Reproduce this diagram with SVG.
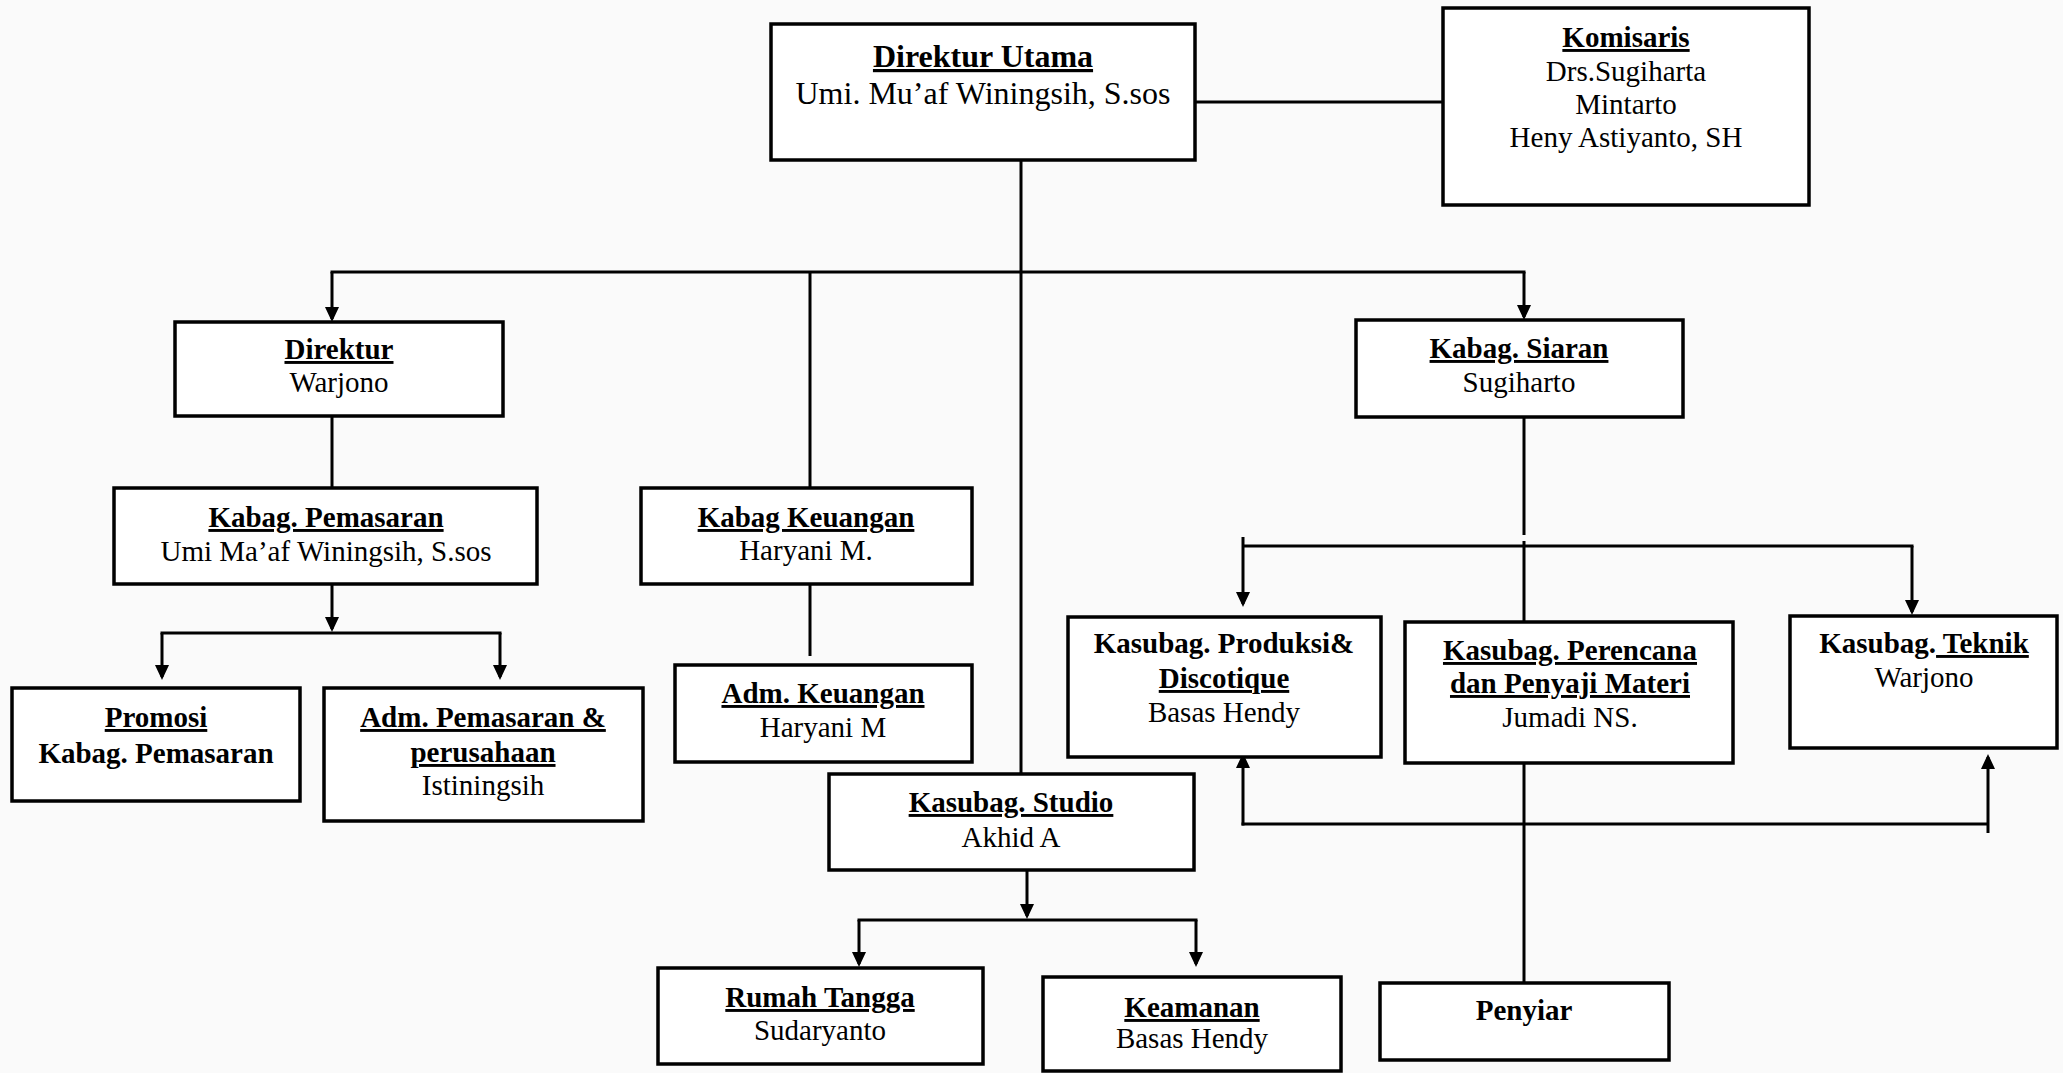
<svg xmlns="http://www.w3.org/2000/svg" width="2063" height="1073" viewBox="0 0 2063 1073">
<style>
.box{fill:#fff;stroke:#000;stroke-width:3.5}
.t{font-family:"Liberation Serif","Times New Roman",serif;font-size:29px;text-anchor:middle;fill:#000}
.big{font-size:32px}
.b{font-weight:bold}
.u{text-decoration:underline;text-decoration-thickness:2.5px}
.c{stroke:#000;stroke-width:3;fill:none}
.a{stroke:#000;stroke-width:3;fill:none;marker-end:url(#ah)}
</style>
<defs>
<marker id="ah" markerUnits="userSpaceOnUse" markerWidth="16" markerHeight="15" refX="12" refY="7" orient="auto">
<path d="M0,0 L15,7 L0,14 z" fill="#000"/>
</marker>
</defs>
<rect x="0" y="0" width="2063" height="1073" fill="#fafafa"/>
<g id="connectors">
<line class="c" x1="1195" y1="102" x2="1443" y2="102"/>
<line class="c" x1="1021" y1="160" x2="1021" y2="774"/>
<line class="c" x1="330.5" y1="272" x2="1525.5" y2="272"/>
<line class="a" x1="332" y1="272" x2="332" y2="319"/>
<line class="a" x1="1524" y1="272" x2="1524" y2="317"/>
<line class="c" x1="810" y1="272" x2="810" y2="488"/>
<line class="c" x1="332" y1="416" x2="332" y2="488"/>
<line class="a" x1="332" y1="584" x2="332" y2="629"/>
<line class="c" x1="160.5" y1="633" x2="501.5" y2="633"/>
<line class="a" x1="162" y1="633" x2="162" y2="677"/>
<line class="a" x1="500" y1="633" x2="500" y2="677"/>
<line class="c" x1="810" y1="584" x2="810" y2="656"/>
<line class="a" x1="1027" y1="870" x2="1027" y2="916"/>
<line class="c" x1="857.5" y1="920" x2="1197.5" y2="920"/>
<line class="a" x1="859" y1="920" x2="859" y2="964"/>
<line class="a" x1="1196" y1="920" x2="1196" y2="964"/>
<line class="c" x1="1524" y1="417" x2="1524" y2="535"/>
<line class="c" x1="1524" y1="541" x2="1524" y2="622"/>
<line class="c" x1="1243" y1="546" x2="1913.5" y2="546"/>
<line class="c" x1="1243" y1="537" x2="1243" y2="546"/>
<line class="a" x1="1243" y1="546" x2="1243" y2="604"/>
<line class="a" x1="1912" y1="546" x2="1912" y2="612"/>
<line class="c" x1="1524" y1="763" x2="1524" y2="983"/>
<line class="c" x1="1241.5" y1="824" x2="1988" y2="824"/>
<line class="a" x1="1243" y1="825.5" x2="1243" y2="756"/>
<line class="a" x1="1988" y1="833" x2="1988" y2="757"/>
</g>
<g id="direktur-utama">
<rect class="box" x="771" y="24" width="424" height="136"/>
<text class="t big b u" x="983" y="67">Direktur Utama</text>
<text class="t big" x="983" y="104">Umi. Mu’af Winingsih, S.sos</text>
</g>
<g id="komisaris">
<rect class="box" x="1443" y="8" width="366" height="197"/>
<text class="t b u" x="1626" y="47">Komisaris</text>
<text class="t" x="1626" y="81">Drs.Sugiharta</text>
<text class="t" x="1626" y="114">Mintarto</text>
<text class="t" x="1626" y="147">Heny Astiyanto, SH</text>
</g>
<g id="direktur">
<rect class="box" x="175" y="322" width="328" height="94"/>
<text class="t b u" x="339" y="359">Direktur</text>
<text class="t" x="339" y="392">Warjono</text>
</g>
<g id="kabag-pemasaran">
<rect class="box" x="114" y="488" width="423" height="96"/>
<text class="t b u" x="326" y="527">Kabag. Pemasaran</text>
<text class="t" x="326" y="561">Umi Ma’af Winingsih, S.sos</text>
</g>
<g id="promosi">
<rect class="box" x="12" y="688" width="288" height="113"/>
<text class="t b u" x="156" y="727">Promosi</text>
<text class="t b" x="156" y="763">Kabag. Pemasaran</text>
</g>
<g id="adm-pemasaran">
<rect class="box" x="324" y="688" width="319" height="133"/>
<text class="t b u" x="483" y="727">Adm. Pemasaran &amp;</text>
<text class="t b u" x="483" y="762">perusahaan</text>
<text class="t" x="483" y="795">Istiningsih</text>
</g>
<g id="kabag-keuangan">
<rect class="box" x="641" y="488" width="331" height="96"/>
<text class="t b u" x="806" y="527">Kabag Keuangan</text>
<text class="t" x="806" y="560">Haryani M.</text>
</g>
<g id="adm-keuangan">
<rect class="box" x="675" y="665" width="297" height="97"/>
<text class="t b u" x="823" y="703">Adm. Keuangan</text>
<text class="t" x="823" y="737">Haryani M</text>
</g>
<g id="kasubag-studio">
<rect class="box" x="829" y="774" width="365" height="96"/>
<text class="t b u" x="1011" y="812">Kasubag. Studio</text>
<text class="t" x="1011" y="847">Akhid A</text>
</g>
<g id="rumah-tangga">
<rect class="box" x="658" y="968" width="325" height="96"/>
<text class="t b u" x="820" y="1007">Rumah Tangga</text>
<text class="t" x="820" y="1040">Sudaryanto</text>
</g>
<g id="keamanan">
<rect class="box" x="1043" y="977" width="298" height="94"/>
<text class="t b u" x="1192" y="1017">Keamanan</text>
<text class="t" x="1192" y="1048">Basas Hendy</text>
</g>
<g id="penyiar">
<rect class="box" x="1380" y="983" width="289" height="77"/>
<text class="t b" x="1524" y="1020">Penyiar</text>
</g>
<g id="kabag-siaran">
<rect class="box" x="1356" y="320" width="327" height="97"/>
<text class="t b u" x="1519" y="358">Kabag. Siaran</text>
<text class="t" x="1519" y="392">Sugiharto</text>
</g>
<g id="kasubag-produksi">
<rect class="box" x="1068" y="617" width="313" height="140"/>
<text class="t b" x="1224" y="653">Kasubag. Produksi&amp;</text>
<text class="t b u" x="1224" y="688">Discotique</text>
<text class="t" x="1224" y="722">Basas Hendy</text>
</g>
<g id="kasubag-perencana">
<rect class="box" x="1405" y="622" width="328" height="141"/>
<text class="t b u" x="1570" y="660">Kasubag. Perencana</text>
<text class="t b u" x="1570" y="693">dan Penyaji Materi</text>
<text class="t" x="1570" y="727">Jumadi NS.</text>
</g>
<g id="kasubag-teknik">
<rect class="box" x="1790" y="616" width="267" height="132"/>
<text class="t b" x="1924" y="653">Kasubag.<tspan class="u"> Teknik</tspan></text>
<text class="t" x="1924" y="687">Warjono</text>
</g>
</svg>
